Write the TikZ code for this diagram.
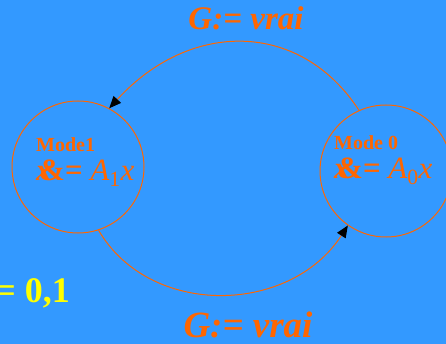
\documentclass[tikz,border=0pt]{standalone}
\usepackage{fontspec}
\setmainfont{Liberation Serif}
\usetikzlibrary{arrows.meta}
\definecolor{bg}{HTML}{3399FF}
\definecolor{org}{HTML}{FF6600}
\definecolor{yel}{HTML}{FFFF00}
\tikzset{
  modenode/.style={circle, draw=org, line width=1pt, minimum size=132pt, inner sep=0pt},
  trans/.style={draw=org, line width=1pt, -{Triangle[length=12pt,width=10pt,fill=black,color=black]}},
  guard/.style={text=org, inner sep=0pt},
  lbl/.style={text=org, inner sep=0pt, align=left}
}
\begin{document}
\begin{tikzpicture}[x=1pt,y=-1pt]
\fill[bg] (0,0) rectangle (446,344);
\useasboundingbox (0,0) rectangle (446,344);
\node[modenode] (m1) at (78,167) {};
\node[modenode] (m0) at (386,171) {};
\node[lbl, anchor=west] (t1) at (36,145) {\fontsize{20}{21}\selectfont\bfseries Mode1};
\node[lbl, anchor=west] (e1) at (36,173) {\fontsize{31}{32}\selectfont\bfseries\makebox[0pt][l]{\itshape x}\kern3pt\&= \mdseries\itshape A\textsubscript{\upshape 1}x};
\node[lbl, anchor=west] (t0) at (334,143) {\fontsize{20}{21}\selectfont\bfseries Mode 0};
\node[lbl, anchor=west] (e0) at (334,171) {\fontsize{31}{32}\selectfont\bfseries\makebox[0pt][l]{\itshape x}\kern3pt\&= \mdseries\itshape A\textsubscript{\upshape 0}x};
\draw[trans] (m0.114) .. controls (300,20) and (190,20) .. (m1.62);
\draw[trans] (m1.-72) .. controls (150,318) and (290,315) .. (m0.235);
\node[guard, font=\fontsize{33}{34}\selectfont\bfseries\itshape] (g1) at (246,18) {G:= vrai};
\node[guard, font=\fontsize{37}{38}\selectfont\bfseries\itshape] (g2) at (248,325) {G:= vrai};
\node[text=yel, font=\fontsize{36}{37}\selectfont\bfseries, inner sep=0pt, anchor=east] (q) at (70,293) {= 0,1};
\end{tikzpicture}
\end{document}
